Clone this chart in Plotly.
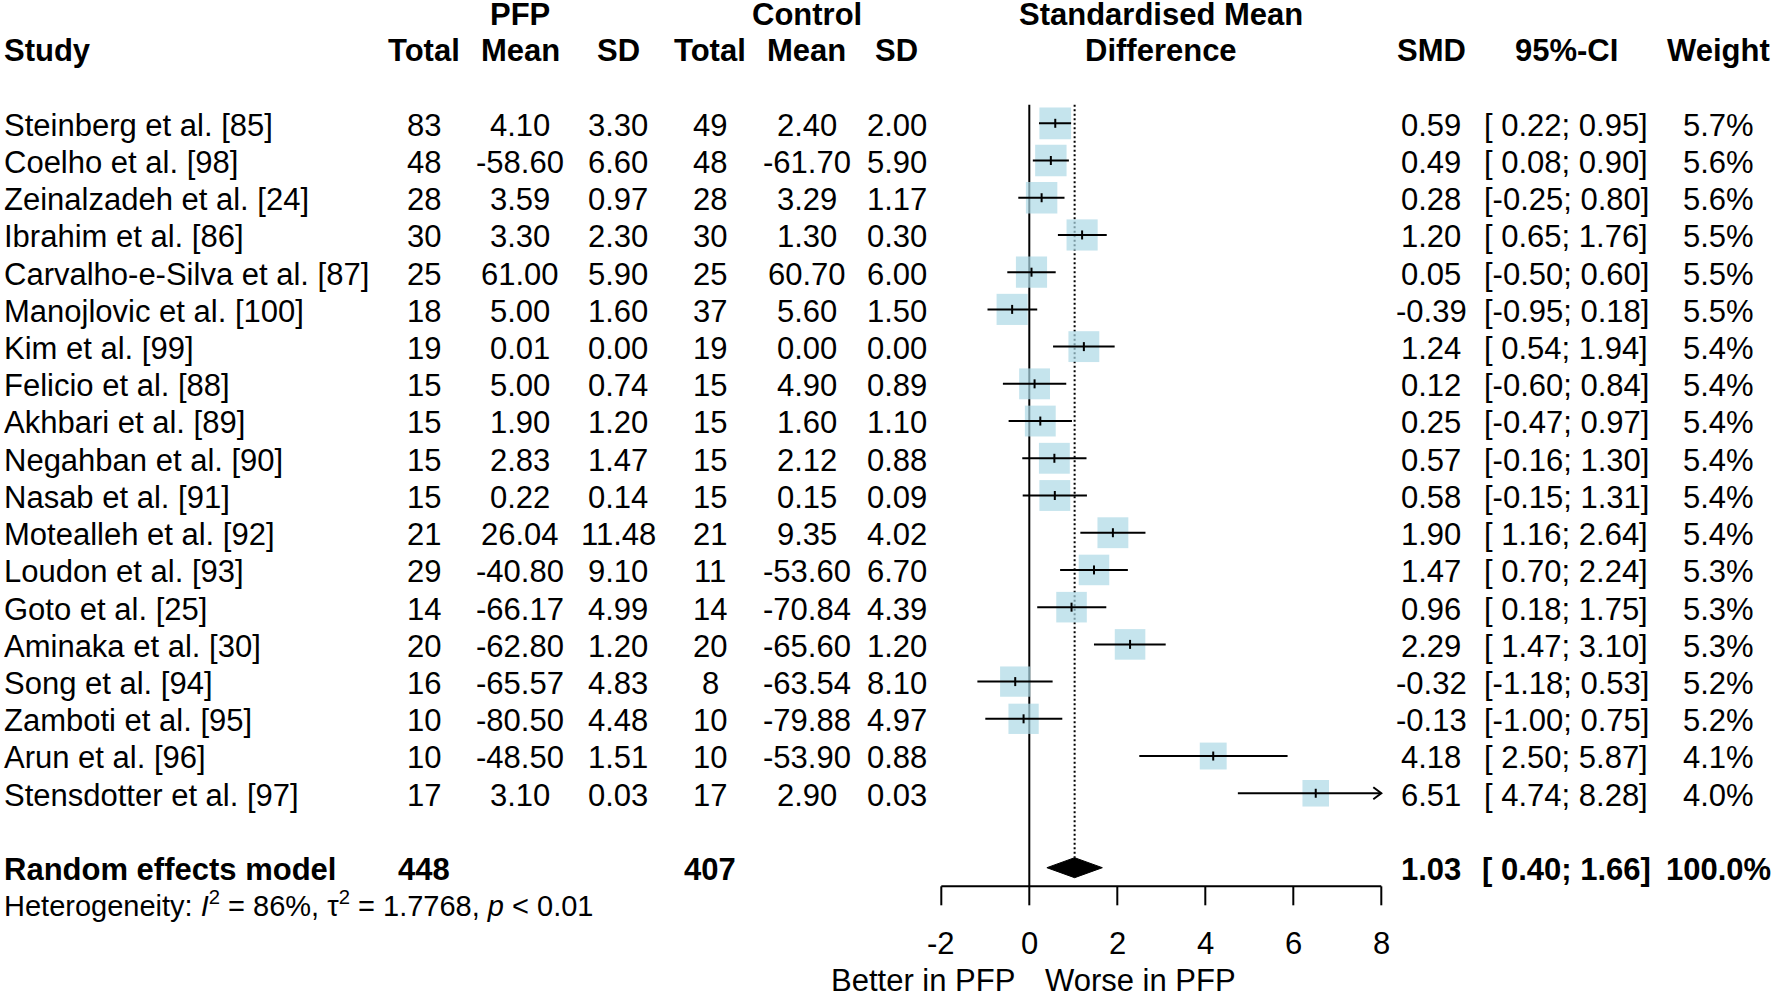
import math
import plotly.graph_objects as go

# ---------------- data ----------------
studies = ["Steinberg et al. [85]", "Coelho et al. [98]", "Zeinalzadeh et al. [24]",
           "Ibrahim et al. [86]", "Carvalho-e-Silva et al. [87]", "Manojlovic et al. [100]",
           "Kim et al. [99]", "Felicio et al. [88]", "Akhbari et al. [89]",
           "Negahban et al. [90]", "Nasab et al. [91]", "Motealleh et al. [92]",
           "Loudon et al. [93]", "Goto et al. [25]", "Aminaka et al. [30]",
           "Song et al. [94]", "Zamboti et al. [95]", "Arun et al. [96]",
           "Stensdotter et al. [97]"]
pfp_total = [83, 48, 28, 30, 25, 18, 19, 15, 15, 15, 15, 21, 29, 14, 20, 16, 10, 10, 17]
pfp_mean = [4.10, -58.60, 3.59, 3.30, 61.00, 5.00, 0.01, 5.00, 1.90, 2.83, 0.22, 26.04,
            -40.80, -66.17, -62.80, -65.57, -80.50, -48.50, 3.10]
pfp_sd = [3.30, 6.60, 0.97, 2.30, 5.90, 1.60, 0.00, 0.74, 1.20, 1.47, 0.14, 11.48,
          9.10, 4.99, 1.20, 4.83, 4.48, 1.51, 0.03]
ctl_total = [49, 48, 28, 30, 25, 37, 19, 15, 15, 15, 15, 21, 11, 14, 20, 8, 10, 10, 17]
ctl_mean = [2.40, -61.70, 3.29, 1.30, 60.70, 5.60, 0.00, 4.90, 1.60, 2.12, 0.15, 9.35,
            -53.60, -70.84, -65.60, -63.54, -79.88, -53.90, 2.90]
ctl_sd = [2.00, 5.90, 1.17, 0.30, 6.00, 1.50, 0.00, 0.89, 1.10, 0.88, 0.09, 4.02,
          6.70, 4.39, 1.20, 8.10, 4.97, 0.88, 0.03]
smd = [0.59, 0.49, 0.28, 1.20, 0.05, -0.39, 1.24, 0.12, 0.25, 0.57, 0.58, 1.90,
       1.47, 0.96, 2.29, -0.32, -0.13, 4.18, 6.51]
ci_lo = [0.22, 0.08, -0.25, 0.65, -0.50, -0.95, 0.54, -0.60, -0.47, -0.16, -0.15, 1.16,
         0.70, 0.18, 1.47, -1.18, -1.00, 2.50, 4.74]
ci_hi = [0.95, 0.90, 0.80, 1.76, 0.60, 0.18, 1.94, 0.84, 0.97, 1.30, 1.31, 2.64,
         2.24, 1.75, 3.10, 0.53, 0.75, 5.87, 8.28]
weight = [5.7, 5.6, 5.6, 5.5, 5.5, 5.5, 5.4, 5.4, 5.4, 5.4, 5.4, 5.4,
          5.3, 5.3, 5.3, 5.2, 5.2, 4.1, 4.0]

pooled_label = "Random effects model"
pooled_total_pfp = 448
pooled_total_ctl = 407
pooled_smd = 1.03
pooled_lo = 0.40
pooled_hi = 1.66
pooled_weight = 100.0

x_ticks = [-2, 0, 2, 4, 6, 8]
label_left = "Better in PFP"
label_right = "Worse in PFP"
hetero_text = ("Heterogeneity: <i>I</i><sup>2</sup> = 86%, \u03c4<sup>2</sup> = 1.7768, "
               "<i>p</i> &lt; 0.01")

# ---------------- layout geometry ----------------
W, H = 1771, 993
X0_PX, PX_PER_UNIT = 1029.3, 44.0      # where SMD 0 sits, pixels per SMD unit
ROW0_PX, PX_PER_ROW = 123.3, 37.22     # first study row centre, row spacing
FONT = "Liberation Sans, Arial, Helvetica, sans-serif"
FS = 31
FS_HET = 29
TXT_OFF = 0.05
BOX_COLOR = "#ADD8E6"
MAX_BOX_PX = 31.7

def xr(px):
    return (px - X0_PX) / PX_PER_UNIT

n = len(studies)
rows = list(range(n))
row_pooled = n + 1
row_het = n + 2
row_axis = n + 1.5
row_top = -0.5
axis_min, axis_max = min(x_ticks), max(x_ticks)

fig = go.Figure()

# reference line at 0 (solid) and at pooled estimate (dotted)
diamond_half = 10 / PX_PER_ROW
fig.add_trace(go.Scatter(x=[0, 0], y=[row_top, row_axis], mode="lines",
                         line=dict(color="black", width=2), hoverinfo="skip"))
fig.add_trace(go.Scatter(x=[pooled_smd, pooled_smd], y=[row_top, row_pooled - diamond_half],
                         mode="lines", line=dict(color="black", width=2, dash="2px,2.5px"),
                         hoverinfo="skip"))

# boxes
max_w = max(weight)
sizes = [MAX_BOX_PX * math.sqrt(w / max_w) for w in weight]
fig.add_trace(go.Scatter(x=smd, y=rows, mode="markers",
                         marker=dict(symbol="square", size=sizes, color=BOX_COLOR,
                                     line=dict(width=0)),
                         hoverinfo="skip"))

# confidence intervals (clipped to axis limits)
cx, cy = [], []
ax_, ay_ = [], []
arrow_dx = 8 / PX_PER_UNIT
arrow_dy = 6 / PX_PER_ROW
for r, lo, hi in zip(rows, ci_lo, ci_hi):
    lo_c, hi_c = max(lo, axis_min), min(hi, axis_max)
    cx += [lo_c, hi_c, None]
    cy += [r, r, None]
    if hi > axis_max:
        ax_ += [hi_c - arrow_dx, hi_c, hi_c - arrow_dx, None]
        ay_ += [r - arrow_dy, r, r + arrow_dy, None]
    if lo < axis_min:
        ax_ += [lo_c + arrow_dx, lo_c, lo_c + arrow_dx, None]
        ay_ += [r - arrow_dy, r, r + arrow_dy, None]
fig.add_trace(go.Scatter(x=cx, y=cy, mode="lines", line=dict(color="black", width=2),
                         hoverinfo="skip"))
if ax_:
    fig.add_trace(go.Scatter(x=ax_, y=ay_, mode="lines", line=dict(color="black", width=2),
                             hoverinfo="skip"))

# estimate tick marks
tick_half = 4.5 / PX_PER_ROW
tx, ty = [], []
for r, e in zip(rows, smd):
    tx += [e, e, None]
    ty += [r - tick_half, r + tick_half, None]
fig.add_trace(go.Scatter(x=tx, y=ty, mode="lines", line=dict(color="black", width=2),
                         hoverinfo="skip"))

# pooled diamond
fig.add_trace(go.Scatter(
    x=[pooled_lo, pooled_smd, pooled_hi, pooled_smd, pooled_lo],
    y=[row_pooled, row_pooled - diamond_half, row_pooled, row_pooled + diamond_half, row_pooled],
    mode="lines", fill="toself", fillcolor="black", line=dict(color="black", width=1),
    hoverinfo="skip"))

# x axis (line + ticks)
tick_len = 19 / PX_PER_ROW
axx = [axis_min, axis_max, None]
axy = [row_axis, row_axis, None]
for t in x_ticks:
    axx += [t, t, None]
    axy += [row_axis, row_axis + tick_len, None]
fig.add_trace(go.Scatter(x=axx, y=axy, mode="lines", line=dict(color="black", width=2),
                         hoverinfo="skip"))

def add_text(x, row, text, anchor="center", bold=False, xref="paper", size=FS):
    fig.add_annotation(
        x=x / W if xref == "paper" else x, xref=xref, y=row + TXT_OFF, yref="y",
        text=f"<b>{text}</b>" if bold else text, showarrow=False,
        xanchor=anchor, yanchor="middle", borderpad=0,
        font=dict(family=FONT, size=size, color="black"))

for t in x_ticks:
    add_text(t, row_axis + 1.48, f"{t:g}", xref="x")
add_text(xr(1016.0), row_axis + 2.47, label_left, anchor="right", xref="x")
add_text(xr(1044.0), row_axis + 2.47, label_right, anchor="left", xref="x")

# column positions (pixel centres)
C_STUDY = 3
C_PT, C_PM, C_PS = 424, 520, 618
C_CT, C_CM, C_CS = 710, 806.6, 897
C_SMD, C_CI, C_W = 1431, 1566.3, 1718
C_PLOT = 1161

# headers
add_text(C_PM, -2.97, "PFP", bold=True)
add_text(C_CM, -2.97, "Control", bold=True)
add_text(C_PLOT, -2.97, "Standardised Mean", bold=True)
add_text(C_STUDY, -2, "Study", anchor="left", bold=True)
for c, h in [(C_PT, "Total"), (C_PM, "Mean"), (C_PS, "SD"), (C_CT, "Total"),
             (C_CM, "Mean"), (C_CS, "SD"), (C_PLOT, "Difference"), (C_SMD, "SMD"),
             (C_CI, "95%-CI"), (C_W, "Weight")]:
    add_text(c, -2, h, bold=True)

# study rows
for i in rows:
    add_text(C_STUDY, i, studies[i], anchor="left")
    add_text(C_PT, i, f"{pfp_total[i]}")
    add_text(C_PM, i, f"{pfp_mean[i]:.2f}")
    add_text(C_PS, i, f"{pfp_sd[i]:.2f}")
    add_text(C_CT, i, f"{ctl_total[i]}")
    add_text(C_CM, i, f"{ctl_mean[i]:.2f}")
    add_text(C_CS, i, f"{ctl_sd[i]:.2f}")
    add_text(C_SMD, i, f"{smd[i]:.2f}")
    add_text(C_CI, i, f"[{ci_lo[i]:5.2f}; {ci_hi[i]:.2f}]".replace("[ ", "[&#160;"))
    add_text(C_W, i, f"{weight[i]:.1f}%")

# pooled row
add_text(C_STUDY, row_pooled, pooled_label, anchor="left", bold=True)
add_text(C_PT, row_pooled, f"{pooled_total_pfp}", bold=True)
add_text(C_CT, row_pooled, f"{pooled_total_ctl}", bold=True)
add_text(C_SMD, row_pooled, f"{pooled_smd:.2f}", bold=True)
add_text(C_CI, row_pooled, f"[{pooled_lo:5.2f}; {pooled_hi:.2f}]".replace("[ ", "[&#160;"), bold=True)
add_text(C_W, row_pooled, f"{pooled_weight:.1f}%", bold=True)
add_text(C_STUDY, row_het - 0.08, hetero_text, anchor="left", size=FS_HET)

fig.update_layout(
    width=W, height=H, margin=dict(l=0, r=0, t=0, b=0),
    paper_bgcolor="white", plot_bgcolor="white", showlegend=False,
    xaxis=dict(range=[xr(0), xr(W)], visible=False, fixedrange=True),
    yaxis=dict(range=[(H - ROW0_PX) / PX_PER_ROW, (0 - ROW0_PX) / PX_PER_ROW],
               visible=False, fixedrange=True),
)

fig.write_html("out.html", config={"displayModeBar": False},
               post_script="document.body.style.margin='0px';"
                           "document.body.style.overflow='hidden';")
